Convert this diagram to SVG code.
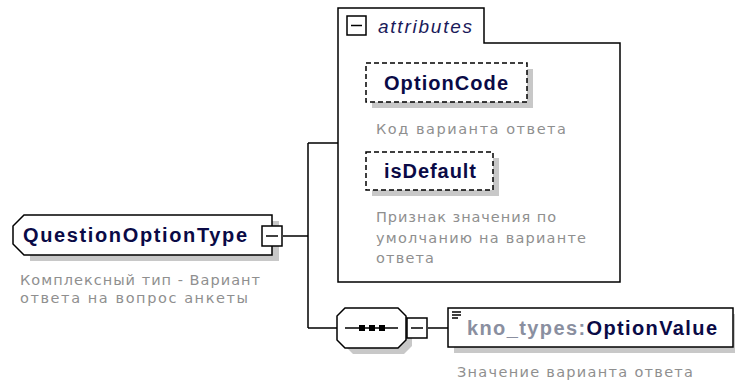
<svg xmlns="http://www.w3.org/2000/svg" width="735" height="385" viewBox="0 0 735 385">
<style>
.name{font-family:"Liberation Sans",Arial,sans-serif;font-weight:bold;font-size:20px;fill:#0a0a46}
.pref{fill:#8a8fa0}
.desc{font-family:"DejaVu Sans","Liberation Sans",sans-serif;font-size:14.5px;fill:#8f8f8f}
.ital{font-family:"Liberation Sans",Arial,sans-serif;font-style:italic;font-size:19px;fill:#1a1a5a}
.shadow{fill:#c8c8c8}
.box{fill:#fff;stroke:#000;stroke-width:1.5}
.dash{fill:#fff;stroke:#000;stroke-width:1.5;stroke-dasharray:5,3}
.btn{fill:#fff;stroke:#000;stroke-width:1.5}
.line{fill:none;stroke:#000;stroke-width:1.5}
</style>
<g id="connectors">
<path class="line" d="M283 236 H308 M308 143 V328 M308 143 H338 M308 328 H337 M428 328 H448"/>
</g>
<g id="attributes">
<path class="box" d="M338 8 H484 V43 H620 V282 H338 Z"/>
<rect class="btn" x="347" y="16" width="19" height="19" stroke-width="2.5"/>
<path class="line" d="M351 25.5 H362"/>
<text class="ital" x="378" y="33" textLength="94">attributes</text>
</g>
<g id="OptionCode">
<rect class="shadow" x="372" y="69" width="161" height="39"/>
<rect class="dash" x="366" y="63" width="161" height="39"/>
<text class="name" x="446" y="90" text-anchor="middle" textLength="124">OptionCode</text>
<text class="desc" x="376" y="134" textLength="190">Код варианта ответа</text>
</g>
<g id="isDefault">
<rect class="shadow" x="372" y="158" width="127" height="38"/>
<rect class="dash" x="366" y="152" width="127" height="38"/>
<text class="name" x="430" y="178" text-anchor="middle" textLength="92">isDefault</text>
<text class="desc" x="376" y="222" textLength="180">Признак значения по</text>
<text class="desc" x="376" y="243" textLength="210">умолчанию на варианте</text>
<text class="desc" x="376" y="263" textLength="58">ответа</text>
</g>
<g id="QuestionOptionType">
<path class="shadow" d="M30 221 H279 V261 H30 Z"/>
<path class="box" d="M24 215 H272 V255 H24 L13 244 V226 Z"/>
<text class="name" x="23" y="242" textLength="224">QuestionOptionType</text>
<rect class="btn" x="262" y="226" width="20" height="20" stroke-width="2.5"/>
<path class="line" d="M266 236 H278"/>
<text class="desc" x="20" y="285" textLength="240">Комплексный тип - Вариант</text>
<text class="desc" x="20" y="303" textLength="228">ответа на вопрос анкеты</text>
</g>
<g id="sequence">
<path class="shadow" d="M353 314 H404 L412 322 V346 L404 354 H353 L345 346 V322 Z"/>
<path class="box" d="M345 308 H398 L406 316 V340 L398 348 H345 L337 340 V316 Z"/>
<path class="line" d="M345 328 H398"/>
<rect x="359" y="325" width="6" height="6" fill="#000"/>
<rect x="369" y="325" width="6" height="6" fill="#000"/>
<rect x="379" y="325" width="6" height="6" fill="#000"/>
<rect class="btn" x="407" y="318" width="20" height="20" stroke-width="2.5"/>
<path class="line" d="M411 328 H423"/>
</g>
<g id="OptionValue">
<rect class="shadow" x="454" y="314" width="285" height="39"/>
<rect class="box" x="448" y="308" width="285" height="39"/>
<path class="line" d="M452 312 H461 M452 315 H461 M452 318 H458" stroke-width="1.2"/>
<text class="name" x="467" y="335" textLength="250"><tspan class="pref">kno_types:</tspan>OptionValue</text>
<text class="desc" x="457" y="377" textLength="236">Значение варианта ответа</text>
</g>
</svg>
